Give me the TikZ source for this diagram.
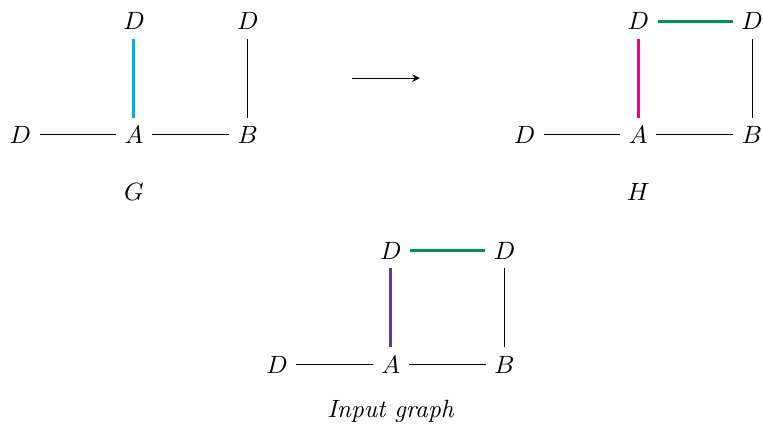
\documentclass[tikz,border=0pt]{standalone}
\usetikzlibrary{arrows}
\definecolor{edgecyan}{RGB}{0,174,239}
\definecolor{edgemag}{RGB}{236,0,140}
\definecolor{edgegreen}{RGB}{0,150,80}
\definecolor{edgepurple}{RGB}{92,60,150}
\tikzset{vx/.style={inner sep=3.33pt},hot/.style={very thick}}
\begin{document}
\begin{tikzpicture}
\useasboundingbox (-1.884,-4.063) rectangle (8.844,1.898);
% G
\node[vx] (gA) at (0,0) {$A$};
\node[vx] (gB) at (1.6,0) {$B$};
\node[vx] (gD1) at (-1.6,0) {$D$};
\node[vx] (gD2) at (0,1.6) {$D$};
\node[vx] (gD3) at (1.6,1.6) {$D$};
\node (gL) at (0,-0.8) {$G$};
\draw (gD1) -- (gA);
\draw (gA) -- (gB);
\draw (gB) -- (gD3);
\draw[hot,edgecyan] (gA) -- (gD2);
% arrow
\coordinate (aS) at (3.07,0.8);
\coordinate (aE) at (4.02,0.8);
\draw[-stealth] (aS) -- (aE);
% H
\node[vx] (hA) at (7.09,0) {$A$};
\node[vx] (hB) at (8.69,0) {$B$};
\node[vx] (hD1) at (5.49,0) {$D$};
\node[vx] (hD2) at (7.09,1.6) {$D$};
\node[vx] (hD3) at (8.69,1.6) {$D$};
\node (hL) at (7.09,-0.8) {$H$};
\draw (hD1) -- (hA);
\draw (hA) -- (hB);
\draw (hB) -- (hD3);
\draw[hot,edgemag] (hA) -- (hD2);
\draw[hot,edgegreen] (hD2) -- (hD3);
% Input graph
\node[vx] (iA) at (3.61,-3.23) {$A$};
\node[vx] (iB) at (5.21,-3.23) {$B$};
\node[vx] (iD1) at (2.01,-3.23) {$D$};
\node[vx] (iD2) at (3.61,-1.63) {$D$};
\node[vx] (iD3) at (5.21,-1.63) {$D$};
\node (iL) at (3.61,-3.88) {\textit{Input graph}};
\draw (iD1) -- (iA);
\draw (iA) -- (iB);
\draw (iB) -- (iD3);
\draw[hot,edgepurple] (iA) -- (iD2);
\draw[hot,edgegreen] (iD2) -- (iD3);
\end{tikzpicture}
\end{document}
